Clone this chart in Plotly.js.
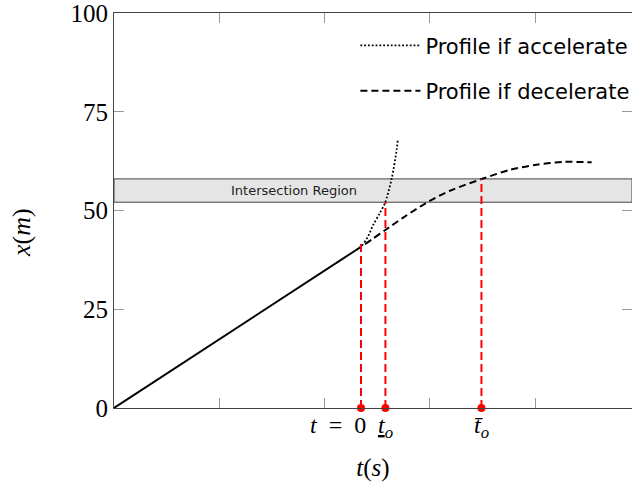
<!DOCTYPE html>
<html>
<head>
<meta charset="utf-8">
<script src="https://cdn.plot.ly/plotly-3.0.1.min.js"></script>
<style>
  html, body { margin: 0; padding: 0; background: #fff; }
  #chart { width: 632px; height: 490px; }
</style>
</head>
<body>
<div id="chart"></div>
<script>
// constant speed part, before t = 0
var tConst = [0, 2.3];
var xConst = [0, 40.0];

// profile if accelerate (dotted)
var tAcc = [2.30, 2.352, 2.41, 2.463, 2.52, 2.574, 2.637, 2.685, 2.695];
var xAcc = [40.0, 41.0, 43.3, 46.4, 49.1, 51.9, 58.0, 65.4, 67.8];

// profile if decelerate (dashed)
var tDec = [2.30, 2.352, 2.45, 2.574, 2.747, 2.97, 3.191, 3.492, 3.761, 4.014, 4.267, 4.537];
var xDec = [40.0, 40.9, 42.7, 45.0, 48.2, 52.0, 55.0, 57.96, 60.3, 61.6, 62.3, 62.2];

// marked instants, their heights and labels
var markT = [2.346, 2.578, 3.49];
var markX = [41.5, 52.1, 58.0];
var markLabels = ['<i>t</i>\u2002=\u20020', '<u><i>t</i></u><sub><i>o</i></sub>', '<i>t\u0304</i><sub><i>o</i></sub>'];

// intersection band
var bandLow = 52.1;
var bandHigh = 58.0;

var yTicks = [0, 25, 50, 75, 100];
var xTicks = [1, 2, 3, 4];

var serif = 'Liberation Serif, serif';
var sans = 'DejaVu Sans, sans-serif';

var traces = [];

traces.push({
  x: tConst, y: xConst, type: 'scatter', mode: 'lines',
  line: {color: '#000', width: 2}, showlegend: false, hoverinfo: 'skip'
});

traces.push({
  x: tAcc, y: xAcc, type: 'scatter', mode: 'lines', name: 'Profile if accelerate',
  line: {color: '#000', width: 1.8, dash: '1.8px,2px', shape: 'spline', smoothing: 0.8},
  legend: 'legend'
});

traces.push({
  x: tDec, y: xDec, type: 'scatter', mode: 'lines', name: 'Profile if decelerate',
  line: {color: '#000', width: 2, dash: '7px,4px', shape: 'spline', smoothing: 0.8},
  legend: 'legend2'
});

// red dashed drop lines
markT.forEach(function (t, i) {
  traces.push({
    x: [t, t], y: [0, markX[i]], type: 'scatter', mode: 'lines',
    line: {color: '#ff0000', width: 2, dash: '8px,4px'},
    showlegend: false, hoverinfo: 'skip'
  });
});

traces.push({
  x: markT, y: markT.map(function () { return 0; }), type: 'scatter', mode: 'markers',
  marker: {color: '#ff0000', size: 8}, cliponaxis: false, showlegend: false
});

// labels under the axis; "t = 0" is set so its 0 sits on the mark
var labelAnn = markT.map(function (t, i) {
  return {
    text: markLabels[i], xref: 'x', yref: 'paper', x: t, y: 0,
    xanchor: i === 0 ? 'right' : 'center', yanchor: 'top',
    xshift: i === 0 ? 7 : 0, yshift: -2, showarrow: false,
    font: {family: serif, size: 24, color: '#000'}
  };
});

var layout = {
  width: 632,
  height: 490,
  margin: {l: 114, r: 0, t: 13, b: 82, autoexpand: false},
  paper_bgcolor: '#fff',
  plot_bgcolor: '#fff',
  showlegend: true,
  xaxis: {
    range: [0, 4.92],
    tickvals: xTicks,
    ticks: 'inside', ticklen: 10, tickcolor: '#999', tickwidth: 1,
    showticklabels: false,
    showline: true, linecolor: '#444', linewidth: 1, mirror: 'ticks',
    showgrid: false, zeroline: false,
    title: {text: '<i>t</i>(<i>s</i>)', font: {family: serif, size: 25, color: '#000'}, standoff: 50}
  },
  yaxis: {
    range: [0, 100],
    tickvals: yTicks,
    ticks: 'inside', ticklen: 10, tickcolor: '#999', tickwidth: 1,
    ticklabeloverflow: 'allow',
    showline: true, linecolor: '#444', linewidth: 1, mirror: 'ticks',
    showgrid: false, zeroline: false,
    tickfont: {family: serif, size: 25, color: '#000'}
  },
  legend: {
    x: 0.466, y: 0.917, xanchor: 'left', yanchor: 'middle',
    bgcolor: 'rgba(0,0,0,0)', itemwidth: 60,
    font: {family: sans, size: 21, color: '#000'}
  },
  legend2: {
    x: 0.466, y: 0.802, xanchor: 'left', yanchor: 'middle',
    bgcolor: 'rgba(0,0,0,0)', itemwidth: 60,
    font: {family: sans, size: 21, color: '#000'}
  },
  shapes: [{
    type: 'rect', xref: 'paper', x0: 0, x1: 1, yref: 'y', y0: bandLow, y1: bandHigh,
    fillcolor: '#e5e5e5', line: {color: '#444', width: 1}, layer: 'below'
  }],
  annotations: [{
    text: 'Intersection Region', xref: 'x', yref: 'y',
    x: 1.71, y: (bandLow + bandHigh) / 2, showarrow: false,
    font: {family: sans, size: 13, color: '#222'}
  }, {
    text: '<i>x</i>(<i>m</i>)', xref: 'paper', yref: 'paper',
    x: -0.18, y: 0.445, xanchor: 'center', yanchor: 'middle',
    textangle: -90, showarrow: false,
    font: {family: serif, size: 26, color: '#000'}
  }].concat(labelAnn)
};

Plotly.newPlot('chart', traces, layout, {displayModeBar: false, staticPlot: true});
</script>
</body>
</html>
